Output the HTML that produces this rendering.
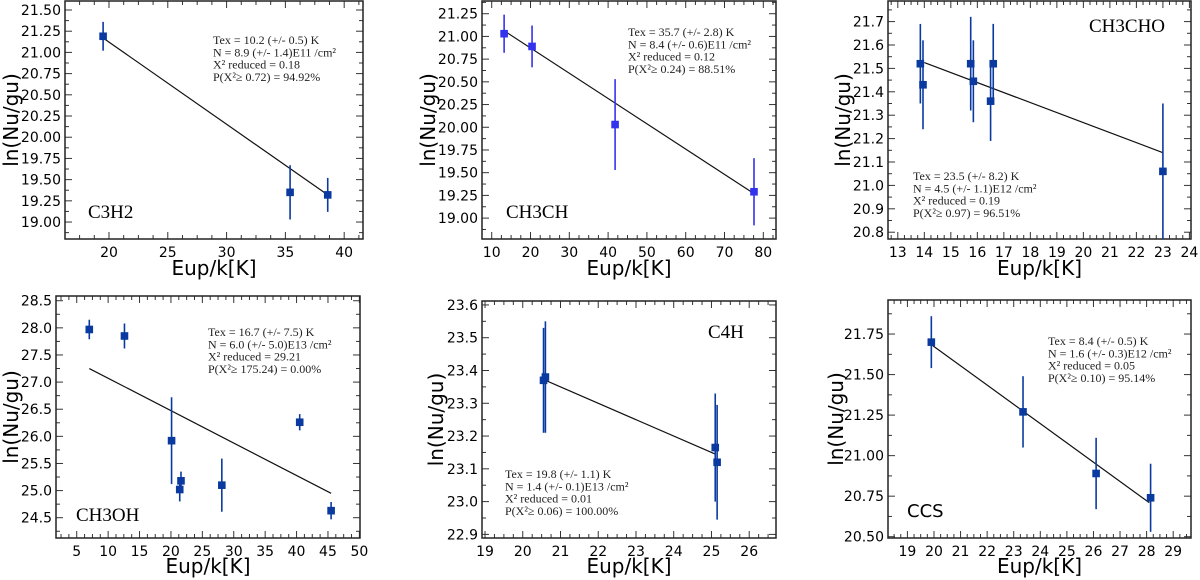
<!DOCTYPE html>
<html><head><meta charset="utf-8"><style>
html,body{margin:0;padding:0;background:#fff}
svg{display:block}
.tk{font-family:"DejaVu Sans","Liberation Sans",sans-serif;font-size:14px;fill:#000}
.al{font-family:"DejaVu Sans","Liberation Sans",sans-serif;font-size:20px;fill:#000}
.an{font-family:"Liberation Serif","DejaVu Serif",serif;font-size:12px;fill:#222}
.mol{font-family:"Liberation Serif",serif;font-size:19px;fill:#000}
</style></head><body>
<svg id="fig" width="1200" height="580" viewBox="0 0 1200 580" xmlns="http://www.w3.org/2000/svg"></svg>
<script>
// Panel 1: C3H2
const p1X=[19.5,35.4,38.6], p1Y=[21.19,19.35,19.32], p1E=[0.17,0.32,0.2];
const p1FitX=[19.5,38.6], p1FitY=[21.17,19.32];
const p1XTicks=[20,25,30,35,40], p1YTicks=[19.00,19.25,19.50,19.75,20.00,20.25,20.50,20.75,21.00,21.25,21.50];
// Panel 2: CH3CH
const p2X=[13.2,20.4,41.8,77.6], p2Y=[21.03,20.89,20.03,19.29], p2E=[0.21,0.23,0.5,0.37];
const p2FitX=[14,77.6], p2FitY=[21.04,19.27];
const p2XTicks=[10,20,30,40,50,60,70,80], p2YTicks=[19.00,19.25,19.50,19.75,20.00,20.25,20.50,20.75,21.00,21.25];
// Panel 3: CH3CHO
const p3X=[13.85,13.95,15.75,15.85,16.5,16.6,23.0], p3Y=[21.52,21.43,21.52,21.445,21.36,21.52,21.06], p3E=[0.17,0.19,0.2,0.175,0.17,0.17,0.29];
const p3FitX=[14,23], p3FitY=[21.525,21.14];
const p3XTicks=[13,14,15,16,17,18,19,20,21,22,23,24], p3YTicks=[20.8,20.9,21.0,21.1,21.2,21.3,21.4,21.5,21.6,21.7];
// Panel 4: CH3OH
const p4X=[7,12.6,20.1,21.4,21.6,28.1,40.5,45.5], p4Y=[27.97,27.85,25.92,25.02,25.18,25.1,26.26,24.63], p4E=[0.18,0.23,0.8,0.22,0.17,0.49,0.15,0.16];
const p4FitX=[7,45.5], p4FitY=[27.25,24.95];
const p4XTicks=[5,10,15,20,25,30,35,40,45,50], p4YTicks=[24.5,25.0,25.5,26.0,26.5,27.0,27.5,28.0,28.5];
// Panel 5: C4H
const p5X=[20.55,20.6,25.1,25.15], p5Y=[23.37,23.38,23.165,23.12], p5E=[0.16,0.17,0.165,0.175];
const p5FitX=[20.6,25.1], p5FitY=[23.37,23.145];
const p5XTicks=[19,20,21,22,23,24,25,26], p5YTicks=[22.9,23.0,23.1,23.2,23.3,23.4,23.5,23.6];
// Panel 6: CCS
const p6X=[19.9,23.35,26.1,28.15], p6Y=[21.70,21.27,20.89,20.74], p6E=[0.16,0.22,0.22,0.21];
const p6FitX=[19.9,28.1], p6FitY=[21.685,20.71];
const p6XTicks=[19,20,21,22,23,24,25,26,27,28,29], p6YTicks=[20.50,20.75,21.00,21.25,21.50,21.75];

const NS="http://www.w3.org/2000/svg";
const fig=document.getElementById('fig');
function mk(tag,attrs,parent){const e=document.createElementNS(NS,tag);for(const k in attrs)e.setAttribute(k,attrs[k]);(parent||fig).appendChild(e);return e;}

const panels=[
 {id:'c3h2',box:[65,1,363,239],xd:[16.26,41.6],yd:[18.8,21.606],X:p1X,Y:p1Y,E:p1E,fx:p1FitX,fy:p1FitY,xt:p1XTicks,yt:p1YTicks,dec:2,col:'#0a3aa0',
  ylx:18,xly:275,ann:[213,44],mol:['C3H2',88,218,'mol'],
  lines:['Tex =  10.2 (+/- 0.5) K','N = 8.9 (+/- 1.4)E11 /cm²','X² reduced = 0.18','P(X²≥ 0.72) = 94.92%']},
 {id:'ch3ch',box:[482,1,776,239],xd:[7.5,83.27],yd:[18.77,21.39],X:p2X,Y:p2Y,E:p2E,fx:p2FitX,fy:p2FitY,xt:p2XTicks,yt:p2YTicks,dec:2,col:'#3333ee',
  ylx:435,xly:275,ann:[628,36],mol:['CH3CH',506,218,'mol'],
  lines:['Tex =  35.7 (+/- 2.8) K','N = 8.4 (+/- 0.6)E11 /cm²','X² reduced = 0.12','P(X²≥ 0.24) = 88.51%']},
 {id:'ch3cho',box:[888,1,1191,239],xd:[12.63,24.06],yd:[20.771,21.788],X:p3X,Y:p3Y,E:p3E,fx:p3FitX,fy:p3FitY,xt:p3XTicks,yt:p3YTicks,dec:1,col:'#0a3aa0',
  ylx:850,xly:275,ann:[913,180],mol:['CH3CHO',1089,32,'mol'],
  lines:['Tex =  23.5 (+/- 8.2) K','N = 4.5 (+/- 1.1)E12 /cm²','X² reduced = 0.19','P(X²≥ 0.97) = 96.51%']},
 {id:'ch3oh',box:[56,296,360,538],xd:[1.7,50.1],yd:[24.126,28.587],X:p4X,Y:p4Y,E:p4E,fx:p4FitX,fy:p4FitY,xt:p4XTicks,yt:p4YTicks,dec:1,col:'#0a3aa0',
  ylx:18,xly:573,ann:[208,336],mol:['CH3OH',76,521,'mol'],
  lines:['Tex =  16.7 (+/- 7.5) K','N = 6.0 (+/- 5.0)E13 /cm²','X² reduced = 29.21','P(X²≥ 175.24) = 0.00%']},
 {id:'c4h',box:[482,301,776,538],xd:[18.92,26.71],yd:[22.889,23.612],X:p5X,Y:p5Y,E:p5E,fx:p5FitX,fy:p5FitY,xt:p5XTicks,yt:p5YTicks,dec:1,col:'#0a3aa0',
  ylx:443,xly:573,ann:[505,478],mol:['C4H',708,338,'mol'],
  lines:['Tex =  19.8 (+/- 1.1) K','N = 1.4 (+/- 0.1)E13 /cm²','X² reduced = 0.01','P(X²≥ 0.06) = 100.00%']},
 {id:'ccs',box:[888,300,1191,538],xd:[18.27,29.67],yd:[20.492,21.96],X:p6X,Y:p6Y,E:p6E,fx:p6FitX,fy:p6FitY,xt:p6XTicks,yt:p6YTicks,dec:2,col:'#0a3aa0',
  ylx:843,xly:573,ann:[1048,345],mol:['CCS',907,517,'tk'],
  lines:['Tex =  8.4 (+/- 0.5) K','N = 1.6 (+/- 0.3)E12 /cm²','X² reduced = 0.05','P(X²≥ 0.10) = 95.14%']}
];

panels.forEach(p=>{
 const [L,T,R,B]=p.box;
 const sx=v=>L+(v-p.xd[0])/(p.xd[1]-p.xd[0])*(R-L);
 const sy=v=>B-(v-p.yd[0])/(p.yd[1]-p.yd[0])*(B-T);
 const g=mk('g',{});
 
 
 const xs=p.xt[1]-p.xt[0], ys=p.yt[1]-p.yt[0];
 const tg=mk('g',{stroke:'#333','stroke-width':1},g);
 
 
 for(let v=p.xt[0]-xs;v<=p.xt[p.xt.length-1]+xs+1e-9;v+=xs/4){
  const x=sx(v); if(x<L||x>R) continue;
  const major=Math.abs((v-p.xt[0])/xs-Math.round((v-p.xt[0])/xs))<1e-6;
  const len=major?7:4;
  mk('line',{x1:x,y1:B,x2:x,y2:B-len},tg);mk('line',{x1:x,y1:T,x2:x,y2:T+len},tg);
 }
 for(let v=p.yt[0]-ys;v<=p.yt[p.yt.length-1]+ys+1e-9;v+=ys/2){
  const y=sy(v); if(y<T||y>B) continue;
  const major=Math.abs((v-p.yt[0])/ys-Math.round((v-p.yt[0])/ys))<1e-6;
  const len=major?7:4;
  mk('line',{x1:L,y1:y,x2:L+len,y2:y},tg);mk('line',{x1:R,y1:y,x2:R-len,y2:y},tg);
 }
 p.xt.forEach(v=>{const t=mk('text',{x:sx(v),y:B+18,'text-anchor':'middle',class:'tk'},g);t.textContent=String(v);
  });
 p.yt.forEach(v=>{const t=mk('text',{x:L-4,y:sy(v)+5,'text-anchor':'end',class:'tk'},g);t.textContent=v.toFixed(p.dec);
  });
 const fr=mk('rect',{x:L,y:T,width:R-L,height:B-T,fill:'none',stroke:'#222','stroke-width':1.5},g);
 
 const xl=mk('text',{x:(L+R)/2,y:p.xly,'text-anchor':'middle',class:'al'},g);xl.textContent='Eup/k[K]';
 
 const yc=(T+B)/2;
 const yl=mk('text',{x:p.ylx,y:yc,'text-anchor':'middle',class:'al',transform:`rotate(-90 ${p.ylx} ${yc})`},g);yl.textContent='ln(Nu/gu)';
 
 const fl=mk('line',{x1:sx(p.fx[0]),y1:sy(p.fy[0]),x2:sx(p.fx[1]),y2:sy(p.fy[1]),stroke:'#111','stroke-width':1.2},g);
 
 p.X.forEach((xv,i)=>{
  const x=sx(xv), y=sy(p.Y[i]);
  const y1=Math.max(T,sy(p.Y[i]+p.E[i])), y2=Math.min(B,sy(p.Y[i]-p.E[i]));
  const eb=mk('line',{x1:x,y1:y1,x2:x,y2:y2,stroke:p.col,'stroke-width':1.6},g);
  
  const m=mk('rect',{x:x-3.8,y:y-3.8,width:7.6,height:7.6,fill:p.col},g);
  
 });
 const an=mk('text',{x:p.ann[0],y:p.ann[1],class:'an'},g);
 
 p.lines.forEach((s,i)=>{const ts=mk('tspan',{x:p.ann[0],y:p.ann[1]+i*12.3},an);ts.textContent=s;});
 const mo=mk('text',{x:p.mol[1],y:p.mol[2],class:p.mol[3]},g);mo.textContent=p.mol[0];
 if(p.mol[3]==='tk')mo.setAttribute('style','font-size:18px');
 
});
</script>
</body></html>
